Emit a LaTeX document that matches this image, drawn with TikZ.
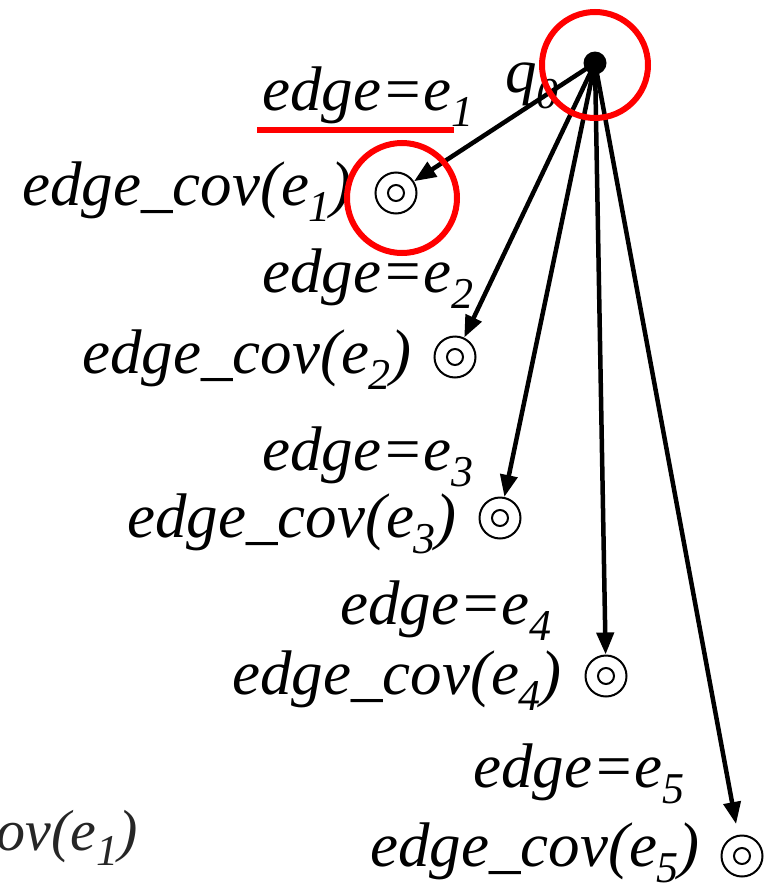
\documentclass[tikz,border=0pt]{standalone}
\usepackage{fontspec}
\setmainfont{Liberation Serif}
\usetikzlibrary{arrows.meta}
\newcommand\sbx[1]{\raisebox{-0.26em}{\fontsize{44}{44}\selectfont #1}}
\begin{document}
\begin{tikzpicture}[x=1pt,y=-1pt,
 lbl/.style={inner sep=0pt, anchor=base west, font=\fontsize{63}{70}\selectfont\itshape},
 outerc/.style={circle, draw, line width=2pt, minimum size=41pt, inner sep=0pt},
 innerc/.style={circle, draw, line width=2pt, minimum size=16pt, inner sep=0pt},
 arr/.style={line width=4.5pt, -{Triangle[length=22pt,width=17pt]}},
 hl/.style={draw=red, line width=6pt}]
\useasboundingbox (0,0) rectangle (776,889);

% start state
\node[circle, fill=black, minimum size=23pt, inner sep=0pt] (q0) at (595,63) {};
\node[lbl] (q0l) at (505,92) {q\sbx{0}};

% labels
\node[lbl] (g1) at (262,110) {edge=e\sbx{1}};
\node[lbl] (c1) at (22,205) {edge\_cov(e\sbx{1})};
\node[lbl] (g2) at (262,292) {edge=e\sbx{2}};
\node[lbl] (c2) at (82,373) {edge\_cov(e\sbx{2})};
\node[lbl] (g3) at (262,470) {edge=e\sbx{3}};
\node[lbl] (c3) at (127,537) {edge\_cov(e\sbx{3})};
\node[lbl] (g4) at (340,624) {edge=e\sbx{4}};
\node[lbl] (c4) at (232,694) {edge\_cov(e\sbx{4})};
\node[lbl] (g5) at (473,787) {edge=e\sbx{5}};
\node[lbl] (c5) at (370,866) {edge\_cov(e\sbx{5})};
\node[lbl, anchor=base east, font=\fontsize{58}{64}\selectfont\itshape, text=black!85] (cx) at (138,850) {edge\_cov(e\sbx{1})};

% target states
\foreach \n/\p in {t1/{(396,193)}, t2/{(455,357)}, t3/{(500,518)}, t4/{(606,676)}, t5/{(742,856)}}{
  \node[outerc] (\n) at \p {};
  \node[innerc] at (\n) {};
}

% arrows
\draw[arr] (q0.center) -- (t1);
\draw[arr] (q0.center) -- (t2);
\draw[arr] (q0.center) -- (t3);
\draw[arr] (q0.center) -- (t4);
\draw[arr, shorten >=11pt] (q0.center) -- (t5);

% red highlights
\draw[hl] (595,65) circle[radius=53pt];
\draw[hl] (402,198) circle[radius=55pt];
\draw[hl] (257,130) -- (454,130);
\end{tikzpicture}
\end{document}
